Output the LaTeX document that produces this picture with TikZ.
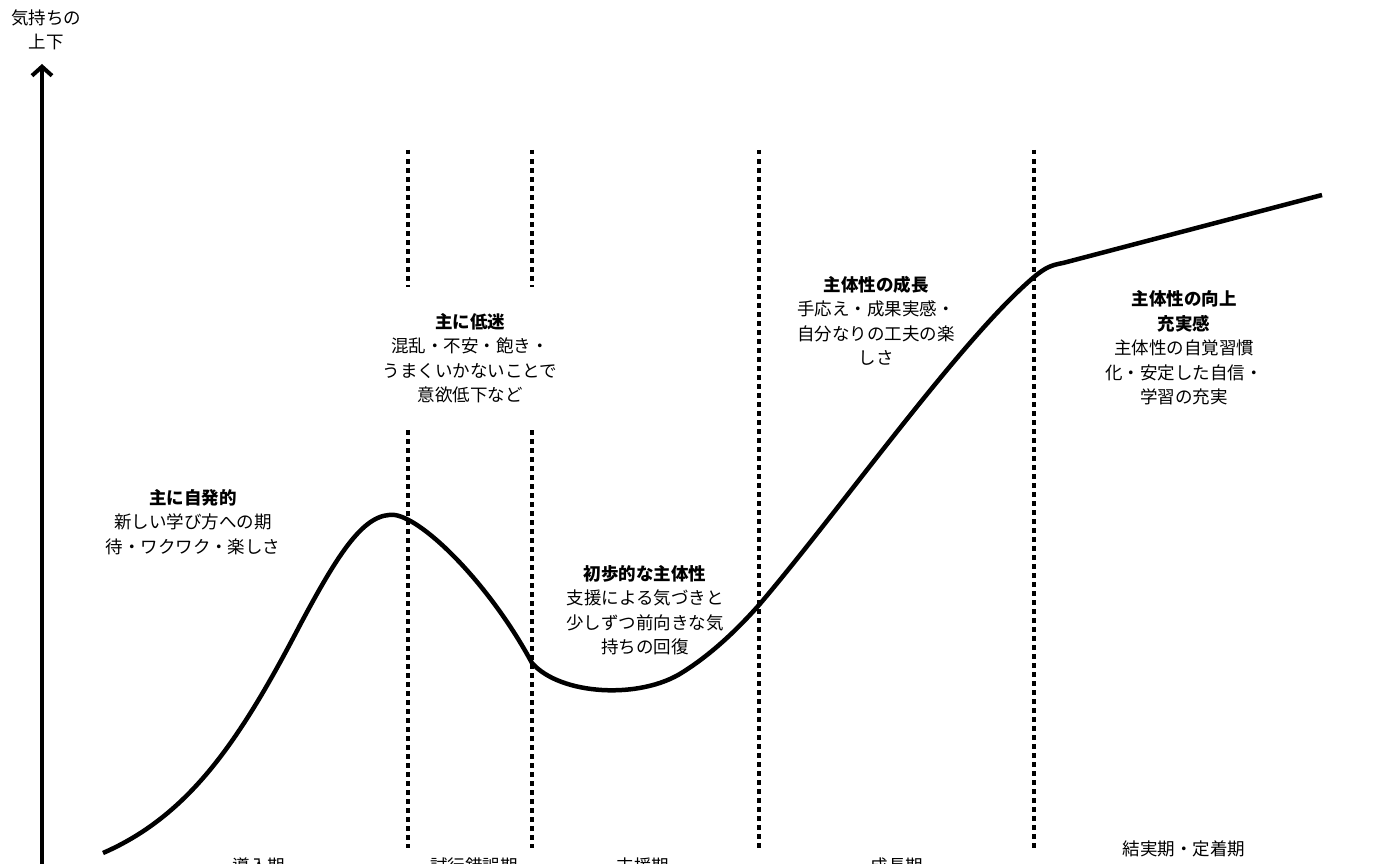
\documentclass[tikz,border=0pt]{standalone}
\usepackage{fontspec}
\setmainfont{Noto Sans CJK JP}
\usetikzlibrary{arrows.meta}
\tikzstyle{note} = [align=center, inner sep=0pt,
font=\fontsize{17.5}{24.5}\selectfont]
\tikzstyle{phase} = [inner sep=0pt, font=\fontsize{17.5}{21}\selectfont]
\tikzstyle{divider} = [line width=4pt, dash pattern=on 4.5pt off 4.5pt]
\tikzstyle{curve} = [line width=4.5pt, line join=round]
\tikzstyle{axis} =
[line width=4pt, -{Straight Barb[length=9pt,width=20pt]}]

\begin{document}
\begin{tikzpicture}[x=1pt, y=-1pt]
\useasboundingbox (0,0) rectangle (1400,864);

\coordinate(base) at (42,866);
\coordinate(top) at (42,64);
\draw[axis](base) -- (top);
\node(ylabel)[note] at (46,30){気持ちの\\上下};

\foreach \x in {408,532}{
\draw[divider](\x,150) -- (\x,287);
\draw[divider](\x,430) -- (\x,848);
}
\foreach \x in {759,1034}
\draw[divider](\x,150) -- (\x,848);

\draw[curve](103,853) .. controls (190,815) and (240,740) .. (300,625)
.. controls (340,550) and (365,512) .. (395,515)
.. controls (425,520) and (490,585) .. (532,663)
.. controls (560,695) and (640,700) .. (683,672)
.. controls (710,655) and (735,632) .. (759,605)
.. controls (840,510) and (960,340) .. (1034,277)
.. controls (1046,267) and (1052,265) .. (1063,263) -- (1322,195);

\node(spont)[note] at (193,522){\textbf{主に自発的}\\新しい学び方への期\\待・ワクワク・楽しさ};
\node(slump)[note] at (470,358){\textbf{主に低迷}\\混乱・不安・飽き・\\うまくいかないことで\\意欲低下など};
\node(early)[note] at (645,610){\textbf{初歩的な主体性}\\支援による気づきと\\少しずつ前向きな気\\持ちの回復};
\node(growth)[note] at (876,321){\textbf{主体性の成長}\\手応え・成果実感・\\自分なりの工夫の楽\\しさ};
\node(rise)[note] at (1184,348){\textbf{主体性の向上}\\\textbf{充実感}\\主体性の自覚習慣\\化・安定した自信・\\学習の充実};

\node(intro)[phase] at (259,866){導入期};
\node(trial)[phase] at (474,866){試行錯誤期};
\node(support)[phase] at (643,866){支援期};
\node(grow)[phase] at (897,866){成長期};
\node(settle)[phase] at (1184,849){結実期・定着期};

\end{tikzpicture}
\end{document}
